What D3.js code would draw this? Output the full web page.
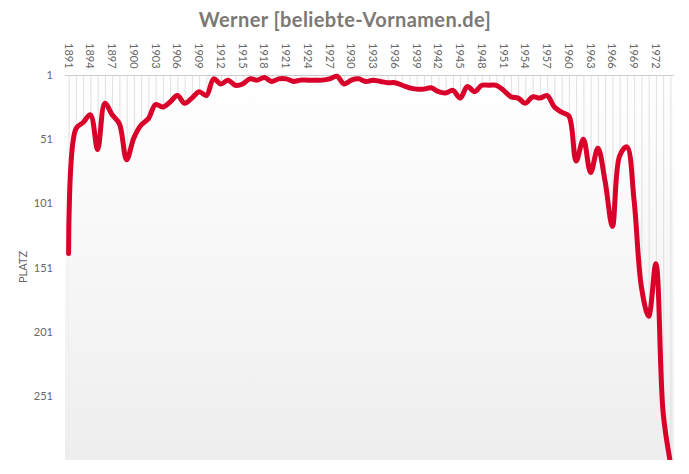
<!DOCTYPE html>
<html><head><meta charset="utf-8">
<script src="https://cdn.jsdelivr.net/npm/d3@7"></script>
<style>
body{margin:0;background:#fff;}
svg{display:block;font-family:Lato, "Open Sans", sans-serif;}
</style></head>
<body><svg id="c" width="689" height="474"></svg>
<script>
const years = d3.range(1891, 1975);
const ranks = [140,43,38,32,59,23,32,39,67,50,
  40,35,24,26,22,17,23,19,14,17,
  4,8,5,9,8,4,5,3,6,4,
  4,6,5,5,5,5,4,2,8,5,
  4,6,5,6,7,7,9,11,12,12,
  11,14,15,13,19,10,14,9,9,9,
  13,18,19,23,18,19,17,26,30,33,
  68,51,77,58,84,119,64,57,99,166,
  189,148,264,303];
const yTicks = [1,51,101,151,201,251];
const title = "Werner [beliebte-Vornamen.de]";
const yTitle = "PLATZ";

const svg = d3.select("#c");
const L=65, R=674, T=75, B=460;
const x = d3.scalePoint().domain(years).range([L,R]).padding(0.5);
const y = d3.scaleLinear().domain([1,301]).range([T,B]);

const defs = svg.append("defs");
const g = defs.append("linearGradient").attr("id","bg").attr("gradientUnits","userSpaceOnUse")
  .attr("x1",0).attr("y1",T).attr("x2",0).attr("y2",B);
g.append("stop").attr("offset","0%").attr("stop-color","#ffffff");
g.append("stop").attr("offset","100%").attr("stop-color","#eeeeee");
defs.append("clipPath").attr("id","clip").append("rect").attr("x",L).attr("y",T-10).attr("width",R-L).attr("height",B-T+10);

svg.append("rect").attr("x",L).attr("y",T).attr("width",R-L).attr("height",B-T).attr("fill","url(#bg)");

svg.append("g").selectAll("line").data(years).join("line")
  .attr("x1",d=>x(d)+0.5).attr("x2",d=>x(d)+0.5).attr("y1",T).attr("y2",B)
  .attr("stroke","#e0e0e0").attr("stroke-width",1);

svg.append("line").attr("x1",L).attr("x2",R).attr("y1",T+0.5).attr("y2",T+0.5).attr("stroke","#cccccc");

svg.append("text").attr("x",345).attr("y",27).attr("text-anchor","middle")
  .attr("font-size",20).attr("letter-spacing",0.4).attr("font-weight","bold").attr("fill","#7d7873").text(title);

svg.append("g").selectAll("text").data(years.filter((d,i)=>i%3===0)).join("text")
  .attr("transform",d=>`translate(${x(d)-4},43) rotate(90)`)
  .attr("font-size",11).attr("fill","#666").attr("text-anchor","start").text(d=>d);

svg.append("g").selectAll("text").data(yTicks).join("text")
  .attr("x",53).attr("y",d=>y(d)+4).attr("text-anchor","end")
  .attr("font-size",11).attr("fill","#666").text(d=>d);

svg.append("text").attr("transform","translate(27,267) rotate(-90)").attr("text-anchor","middle")
  .attr("font-size",11).attr("fill","#666").text(yTitle);

const curve = d3.curveCatmullRom.alpha(0.5);
const area = d3.area().x((d,i)=>x(years[i])).y0(B).y1(d=>y(d)).curve(curve);
svg.append("path").datum(ranks).attr("d",area).attr("clip-path","url(#clip)")
  .attr("fill","url(#bg)");

const line = d3.line().x((d,i)=>x(years[i])).y(d=>y(d)).curve(curve);
svg.append("path").datum(ranks).attr("d",line).attr("clip-path","url(#clip)")
  .attr("fill","none").attr("stroke","#d9002a").attr("stroke-width",5)
  .attr("stroke-linejoin","round").attr("stroke-linecap","round");
</script></body></html>
